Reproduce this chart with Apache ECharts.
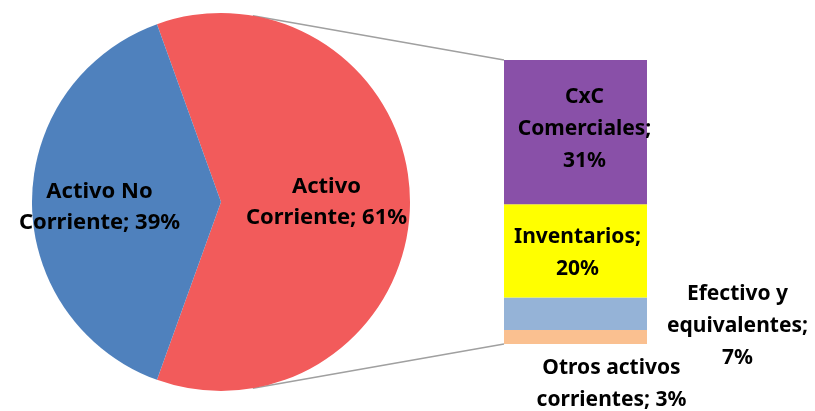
<!DOCTYPE html>
<html>
<head>
<meta charset="utf-8">
<script src="https://cdn.jsdelivr.net/npm/echarts@6/dist/echarts.min.js"></script>
<style>
  html, body { margin: 0; padding: 0; background: #fff; }
  #chart { width: 815px; height: 411px; }
</style>
</head>
<body>
<div id="chart"></div>
<script>
// pie: total assets split
const pieNames = ['Activo\nCorriente', 'Activo No\nCorriente']
const pieValues = [61, 39]
// bar: breakdown of current assets, bottom to top
const barNames = ['Otros activos\ncorrientes', 'Efectivo y\nequivalentes', 'Inventarios', 'CxC\nComerciales']
const barValues = [3, 7, 20, 31]
const barSep = ['; ', ';\n', ';\n', ';\n']

const pieColors = ['#f25b5b', '#4f81bd']
const barColors = ['#fac090', '#95b3d7', '#ffff00', '#8950a8']

const pieCenter = [221, 202]
const pieRadius = 189
const font = '"Noto Sans", "DejaVu Sans", sans-serif'

const chart = echarts.init(document.getElementById('chart'))

// label placement tweaks
const pieLabelShift = [[4, 0], [-12, 2.5]]
const barLabelOffset = [[36, 47], [162, 12], [2, 2], [9, -3]]

const barSeries = barValues.map((v, i) => ({
  name: barNames[i],
  type: 'bar',
  stack: 'total',
  barWidth: '100%',
  data: [v],
  itemStyle: { color: barColors[i] },
  label: {
    show: true,
    position: 'inside',
    offset: barLabelOffset[i],
    formatter: () => barNames[i] + barSep[i] + v + '%',
    color: '#000',
    fontFamily: font,
    fontWeight: 'bold',
    fontSize: 21,
    lineHeight: 32,
    align: 'center'
  }
}))

const option = {
  animation: false,
  grid: { left: 504, top: 60, width: 143, height: 284 },
  xAxis: { type: 'category', data: [''], show: false },
  yAxis: { type: 'value', min: 0, max: 61, show: false },
  series: [
    {
      type: 'pie',
      center: pieCenter,
      radius: pieRadius,
      // centre the first slice on the right-hand side
      startAngle: pieValues[0] / 100 * 180,
      clockwise: true,
      data: pieValues.map((v, i) => ({ name: pieNames[i], value: v, itemStyle: { color: pieColors[i] } })),
      label: {
        show: true,
        position: 'inside',
        formatter: p => p.name + '; ' + p.value + '%',
        color: '#000',
        fontFamily: font,
        fontWeight: 'bold',
        fontSize: 22,
        lineHeight: 31,
        align: 'center'
      },
      labelLayout: p => ({ dx: pieLabelShift[p.dataIndex][0], dy: pieLabelShift[p.dataIndex][1] }),
      emphasis: { disabled: true }
    },
    ...barSeries
  ]
}

chart.setOption(option)

// connector lines from pie edge to bar corners
const ang = 80.3 * Math.PI / 180
const px = pieCenter[0] + pieRadius * Math.cos(ang)
const topY = pieCenter[1] - pieRadius * Math.sin(ang)
const botY = pieCenter[1] + pieRadius * Math.sin(ang)
const barLeft = 504
const barTop = chart.convertToPixel({ yAxisIndex: 0 }, 61)
const barBottom = chart.convertToPixel({ yAxisIndex: 0 }, 0)
chart.setOption({
  graphic: [
    { type: 'line', shape: { x1: px, y1: topY, x2: barLeft, y2: barTop }, style: { stroke: '#a0a0a0', lineWidth: 1.5 }, z: -1 },
    { type: 'line', shape: { x1: px, y1: botY, x2: barLeft, y2: barBottom }, style: { stroke: '#a0a0a0', lineWidth: 1.5 }, z: -1 }
  ]
})
</script>
</body>
</html>
